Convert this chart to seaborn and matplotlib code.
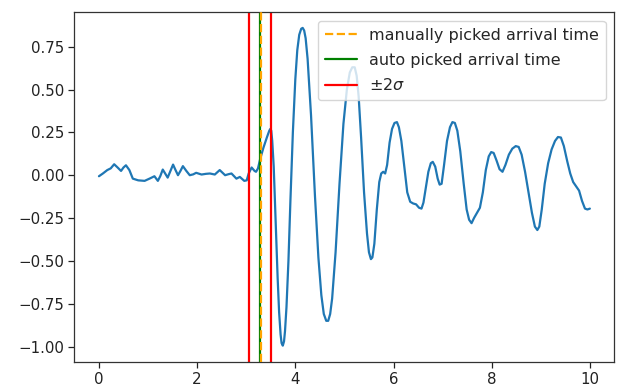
import numpy as np
import pandas as pd
import matplotlib
matplotlib.use("Agg")
import matplotlib.pyplot as plt
import seaborn as sns

# Waveform samples (time, amplitude)
time = [0.00, 0.08, 0.17, 0.24, 0.31, 0.38, 0.45, 0.50, 0.55, 0.62, 0.69, 0.80, 0.93, 1.03, 1.13,
        1.20, 1.25, 1.30, 1.35, 1.40, 1.45, 1.51, 1.56, 1.61, 1.66, 1.71, 1.78, 1.85, 1.92, 1.98,
        2.09, 2.18, 2.26, 2.36, 2.46, 2.57, 2.64, 2.70, 2.80, 2.87, 2.96, 3.01, 3.05, 3.11, 3.17,
        3.20, 3.24, 3.28, 3.35, 3.42, 3.47,
        3.49, 3.51, 3.53, 3.56, 3.60, 3.64, 3.67, 3.70, 3.72, 3.745, 3.77, 3.79, 3.82, 3.86, 3.90,
        3.95, 4.00, 4.04, 4.08, 4.12, 4.15, 4.18, 4.21, 4.25, 4.32, 4.40, 4.47, 4.53, 4.58, 4.63,
        4.67, 4.71, 4.75, 4.82, 4.90, 4.98, 5.05, 5.11, 5.16, 5.21, 5.25, 5.29, 5.34, 5.40, 5.46,
        5.50, 5.54, 5.57, 5.61, 5.66, 5.71, 5.75, 5.79, 5.83, 5.87, 5.92, 5.97, 6.02, 6.07, 6.11,
        6.16, 6.22, 6.28, 6.34, 6.40, 6.46, 6.52, 6.57, 6.61, 6.66, 6.71, 6.76, 6.80, 6.85, 6.90,
        6.94, 6.98, 7.03, 7.09, 7.15, 7.20, 7.25, 7.30, 7.36, 7.43, 7.49, 7.54, 7.59, 7.64, 7.70,
        7.76, 7.82, 7.88, 7.94, 7.99, 8.04, 8.10, 8.16, 8.22, 8.28, 8.35, 8.42, 8.49, 8.55, 8.61,
        8.68, 8.75, 8.82, 8.88, 8.93, 8.97, 9.02, 9.08, 9.15, 9.22, 9.29, 9.35, 9.41, 9.47, 9.54,
        9.60, 9.66, 9.72, 9.78, 9.84, 9.90, 9.95, 10.00]
amplitude = [-0.006, 0.010, 0.030, 0.040, 0.064, 0.045, 0.025, 0.045, 0.058, 0.030, -0.020, -0.030, -0.033, -0.020, -0.006,
             -0.033, -0.005, 0.033, 0.010, -0.014, 0.020, 0.062, 0.030, 0.000, 0.025, 0.053, 0.025, 0.000, 0.005, 0.014,
             0.004, 0.008, 0.010, 0.004, 0.030, 0.000, 0.006, 0.010, -0.020, -0.010, -0.033, -0.030, 0.010, 0.045, 0.025,
             0.020, 0.040, 0.090, 0.160, 0.220, 0.260,
             0.270, 0.260, 0.200, 0.050, -0.280, -0.600, -0.800, -0.930, -0.980, -0.995, -0.970, -0.910, -0.770, -0.500, -0.150,
             0.250, 0.560, 0.730, 0.820, 0.855, 0.860, 0.845, 0.800, 0.680, 0.350, -0.120, -0.480, -0.700, -0.810, -0.850,
             -0.850, -0.810, -0.720, -0.450, -0.050, 0.300, 0.500, 0.600, 0.630, 0.630, 0.580, 0.460, 0.220, -0.100, -0.340,
             -0.450, -0.490, -0.480, -0.400, -0.200, -0.040, 0.010, 0.020, 0.010, 0.060, 0.190, 0.270, 0.305, 0.310, 0.280,
             0.200, 0.050, -0.100, -0.155, -0.165, -0.170, -0.190, -0.195, -0.160, -0.070, 0.020, 0.070, 0.078, 0.050, -0.020,
             -0.055, -0.050, 0.060, 0.200, 0.280, 0.310, 0.305, 0.260, 0.140, -0.050, -0.200, -0.260, -0.280, -0.250, -0.220,
             -0.190, -0.100, 0.030, 0.110, 0.135, 0.130, 0.085, 0.035, 0.020, 0.060, 0.120, 0.155, 0.170, 0.165, 0.120,
             0.020, -0.100, -0.220, -0.300, -0.320, -0.300, -0.200, -0.050, 0.070, 0.150, 0.200, 0.223, 0.220, 0.170, 0.080,
             0.010, -0.040, -0.065, -0.090, -0.150, -0.195, -0.200, -0.195]

manual_pick = 3.31
auto_pick = 3.28
sigma_bounds = [3.06, 3.51]
legend_labels = ["manually picked arrival time", "auto picked arrival time", r"$\pm 2\sigma$"]

df = pd.DataFrame({"time": time, "amplitude": amplitude})

sns.set_style("ticks")
plt.rcParams["font.family"] = ["DejaVu Sans"]
plt.rcParams["axes.edgecolor"] = "black"

fig, ax = plt.subplots(figsize=(6.2, 3.9), dpi=100)
fig.subplots_adjust(left=0.120, right=0.991, top=0.968, bottom=0.072)

sns.lineplot(data=df, x="time", y="amplitude", ax=ax, color="#1f77b4", linewidth=1.6)
ax.axvline(manual_pick, color="orange", linestyle="--", linewidth=1.6, label=legend_labels[0], zorder=3)
ax.axvline(auto_pick, color="green", linewidth=1.6, label=legend_labels[1], zorder=2)
ax.axvline(sigma_bounds[0], color="red", linewidth=1.6, label=legend_labels[2])
ax.axvline(sigma_bounds[1], color="red", linewidth=1.6)

ax.set_xlabel("")
ax.set_ylabel("")
ax.set_xlim(-0.5, 10.5)
ax.set_ylim(-1.09, 0.95)
ax.set_xticks([0, 2, 4, 6, 8, 10])
ax.set_yticks([-1.0, -0.75, -0.5, -0.25, 0.0, 0.25, 0.5, 0.75])
ax.tick_params(labelsize=10.8, length=4, width=0.9, colors="#222222")
for s in ax.spines.values():
    s.set_visible(True)
    s.set_linewidth(0.9)
    s.set_color("#333333")
ax.legend(loc="upper right", fontsize=11.5, labelspacing=0.62, borderaxespad=0.55)

fig.savefig("out.png", dpi=100)
